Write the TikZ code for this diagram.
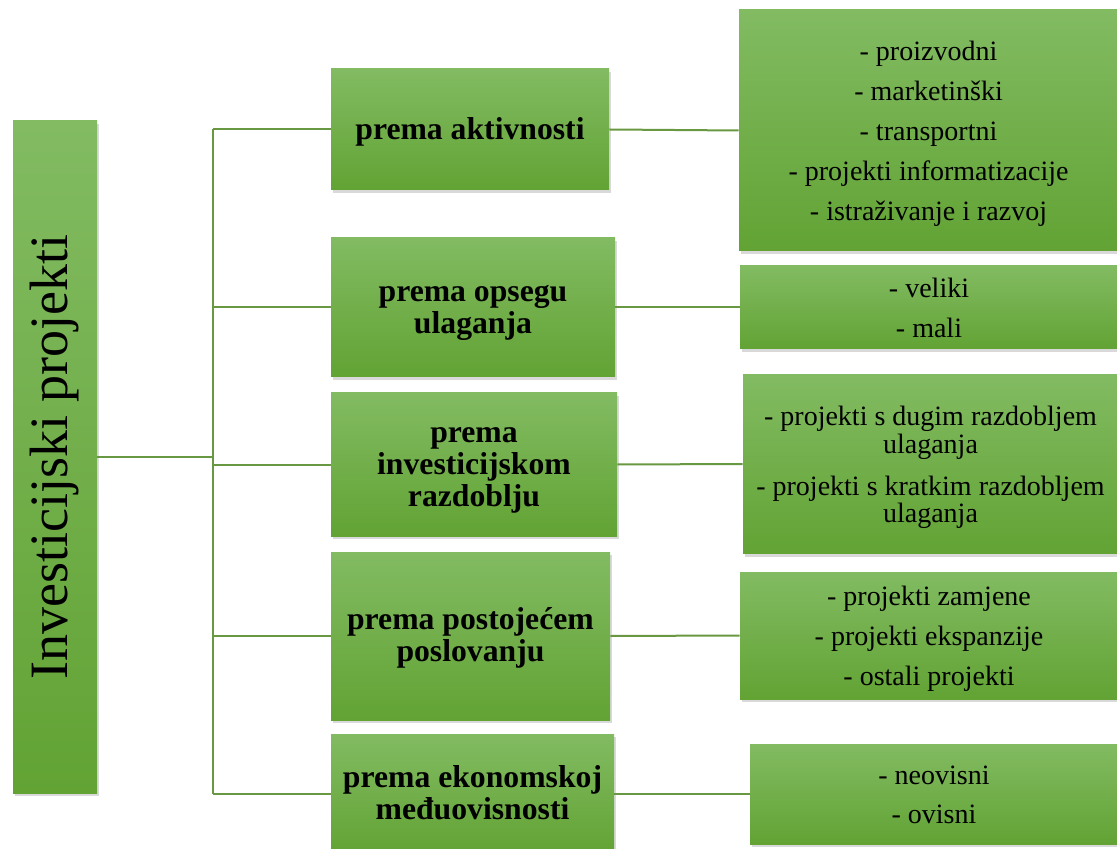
\documentclass[tikz,border=0pt]{standalone}
\usepackage{fontspec}
\setmainfont{Liberation Serif}
\usetikzlibrary{shadows}
\definecolor{boxtop}{RGB}{130,187,98}
\definecolor{boxbot}{RGB}{98,163,52}
\definecolor{linkgreen}{RGB}{104,153,66}
% line boxes as the word processor sets them
\newcommand{\cattext}[1]{\rule{0pt}{0.9em}#1\rule[-0.27em]{0pt}{0pt}}
\newcommand{\listtext}[1]{\rule{0pt}{0.95em}#1\rule[-0.22em]{0pt}{0pt}}
\newcommand{\looselines}{\lineskiplimit -100pt\relax}
\tikzset{
  greenbox/.style={rectangle, top color=boxtop, bottom color=boxbot, draw=none, align=center, inner sep=0pt,
    drop shadow={opacity=0.3, shadow xshift=1pt, shadow yshift=-1.5pt}},
  catbox/.style={greenbox, font={\fontsize{15.85}{16}\selectfont\bfseries\looselines}},
  listbox/.style={greenbox, font={\fontsize{14}{13.75}\selectfont\looselines}},
  link/.style={draw=linkgreen, line width=1pt}
}
\begin{document}
\begin{tikzpicture}[x=0.5pt,y=-0.5pt]
    \useasboundingbox (0,0) rectangle (1117,849);
    % root
    \node[greenbox, rotate=90, minimum width=336pt, minimum height=42pt, font=\fontsize{27}{30}\selectfont] (root) at (55,457) {Investicijski projekti};
    % categories
    \node[catbox, minimum width=139pt, minimum height=60.5pt] (act) at (470,129.5) {\cattext{prema aktivnosti}};
    \node[catbox, minimum width=142pt, minimum height=69.5pt] (ops) at (473,307.5) {\cattext{prema opsegu\\ulaganja}};
    \node[catbox, minimum width=143pt, minimum height=71.5pt] (inv) at (474,464.5) {\cattext{prema\\investicijskom\\razdoblju}};
    \node[catbox, minimum width=139.5pt, minimum height=84pt] (pos) at (470.5,636) {\cattext{prema postojećem\\poslovanju}};
    \node[catbox, minimum width=141.5pt, minimum height=60pt] (eko) at (472.5,794) {\cattext{prema ekonomskoj\\međuovisnosti}};
    % lists
    \node[listbox, minimum width=189.5pt, minimum height=120.5pt] (akt list) at (928.5,130.5) {\listtext{- proizvodni\\[6.25pt]- marketinški\\[6.25pt]- transportni\\[6.25pt]- projekti informatizacije\\[6.25pt]- istraživanje i razvoj}};
    \node[listbox, minimum width=189pt, minimum height=41.5pt] (ops list) at (929,307.5) {\listtext{- veliki\\[6pt]- mali}};
    \node[listbox, minimum width=187.5pt, minimum height=89.5pt] (inv list) at (930.5,464) {\listtext{- projekti s dugim razdobljem\\ulaganja\\[7.25pt]- projekti s kratkim razdobljem\\ulaganja}};
    \node[listbox, minimum width=189pt, minimum height=63.5pt] (pos list) at (929,635.5) {\listtext{- projekti zamjene\\[6.25pt]- projekti ekspanzije\\[6.25pt]- ostali projekti}};
    \node[listbox, minimum width=184pt, minimum height=50pt] (eko list) at (934,794) {\listtext{- neovisni\\[6pt]- ovisni}};
    % connectors
    \coordinate (hub) at (213,457);
    \draw[link] (root.south) -- (hub);
    \draw[link] (hub |- act.west) -- (hub |- eko.west);
    \draw[link] (hub |- act.west) -- (act.west);
    \draw[link] (hub |- ops.west) -- (ops.west);
    \draw[link] (hub |- inv.west) -- (inv.west);
    \draw[link] (hub |- pos.west) -- (pos.west);
    \draw[link] (hub |- eko.west) -- (eko.west);
    \draw[link] (act.east) -- (akt list.west);
    \draw[link] (ops.east) -- (ops list.west);
    \draw[link] (inv.east) -- (inv list.west);
    \draw[link] (pos.east) -- (pos list.west);
    \draw[link] (eko.east) -- (eko list.west);
\end{tikzpicture}
\end{document}
